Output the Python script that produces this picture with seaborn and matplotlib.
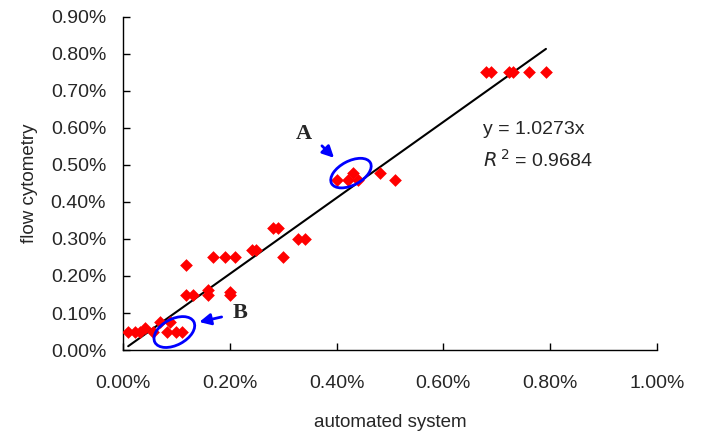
import numpy as np
import pandas as pd
import matplotlib
matplotlib.use("Agg")
import matplotlib.pyplot as plt
import matplotlib.transforms as mtransforms
from matplotlib.patches import Ellipse
import seaborn as sns

# values in percent
automated = [0.01, 0.022, 0.032, 0.041, 0.057, 0.069, 0.082, 0.088, 0.10, 0.11,
             0.119, 0.119, 0.132, 0.16, 0.16, 0.169, 0.191, 0.20, 0.20, 0.21,
             0.241, 0.25, 0.281, 0.291, 0.30, 0.328, 0.341,
             0.40, 0.422, 0.431, 0.44, 0.481, 0.509,
             0.68, 0.69, 0.722, 0.731, 0.761, 0.792]
flow = [0.05, 0.05, 0.05, 0.06, 0.05, 0.077, 0.05, 0.077, 0.05, 0.05,
        0.23, 0.15, 0.15, 0.162, 0.15, 0.252, 0.252, 0.158, 0.15, 0.252,
        0.27, 0.27, 0.329, 0.329, 0.25, 0.30, 0.30,
        0.46, 0.46, 0.479, 0.46, 0.477, 0.46,
        0.75, 0.75, 0.75, 0.75, 0.75, 0.75]
slope = 1.0273
r2 = 0.9684

x_ticks = [0.0, 0.2, 0.4, 0.6, 0.8, 1.0]
y_ticks = [0.0, 0.1, 0.2, 0.3, 0.4, 0.5, 0.6, 0.7, 0.8, 0.9]

df = pd.DataFrame({"automated": automated, "flow": flow})

sns.set_style("ticks")
plt.rcParams["font.family"] = ["Liberation Sans", "DejaVu Sans"]

fig = plt.figure(figsize=(7.02, 4.34), dpi=100)
ax = fig.add_axes([0.175, 0.1935, 0.761, 0.7675])

sns.scatterplot(data=df, x="automated", y="flow", marker="D", color="#ff0000",
                s=42, linewidth=0, ax=ax, zorder=3)

# trend line through the origin, drawn over the data range
xl = np.array([df.automated.min(), df.automated.max()])
ax.plot(xl, slope * xl, color="black", lw=1.5, zorder=2)

ax.set_xlim(0, 1.0)
ax.set_ylim(0, 0.9)
ax.set_xticks(x_ticks)
ax.set_yticks(y_ticks)
ax.set_xticklabels(["%.2f%%" % v for v in x_ticks], fontsize=14)
ax.set_yticklabels(["%.2f%%" % v for v in y_ticks], fontsize=14)
ax.tick_params(direction="in", length=5, width=1, color="black")
ax.tick_params(axis="x", pad=18)
ax.tick_params(axis="y", pad=12)
ax.set_xlabel("automated system", fontsize=13.5, labelpad=16)
ax.set_ylabel("flow cytometry", fontsize=13.5, labelpad=9)
for s in ["top", "right"]:
    ax.spines[s].set_visible(False)
for s in ["left", "bottom"]:
    ax.spines[s].set_color("black")
    ax.spines[s].set_linewidth(1)

ax.text(0.675, 0.595, "y = 1.0273x", fontsize=14, va="center")
ax.text(0.675, 0.515, "$\\mathit{R}^{\\,2}$ = %.4f" % r2, fontsize=14,
        va="center", math_fontfamily="custom")

# annotation ellipses (sized in inches so they keep their shape)
def ring(cx, cy, w, h, ang):
    tr = fig.dpi_scale_trans + mtransforms.ScaledTranslation(cx, cy, ax.transData)
    ax.add_patch(Ellipse((0, 0), w, h, angle=ang, transform=tr, fill=False,
                         edgecolor="#0000ff", lw=2, zorder=4))

ring(0.427, 0.478, 0.44, 0.24, 28)
ring(0.0964, 0.0486, 0.44, 0.26, 28)

ax.annotate("", xy=(0.399, 0.514), xytext=(0.369, 0.557),
            arrowprops=dict(arrowstyle="-|>", color="#0000ff", lw=2,
                            mutation_scale=17))
ax.annotate("", xy=(0.138, 0.074), xytext=(0.19, 0.091),
            arrowprops=dict(arrowstyle="-|>", color="#0000ff", lw=2,
                            mutation_scale=17))
ax.text(0.338, 0.585, "A", fontsize=16, fontweight="bold",
        family="Liberation Serif", ha="center", va="center")
ax.text(0.219, 0.099, "B", fontsize=16, fontweight="bold",
        family="Liberation Serif", ha="center", va="center")

fig.savefig("out.png", dpi=100, facecolor="white")
